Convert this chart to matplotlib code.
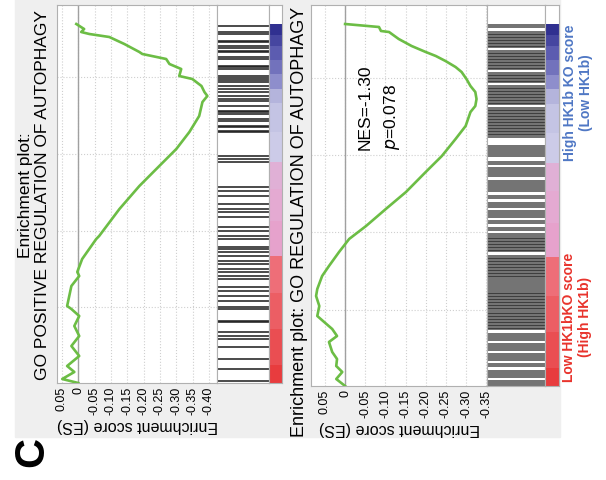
import numpy as np
import matplotlib.pyplot as plt

W, H = 606, 481

# panel 1: GO POSITIVE REGULATION OF AUTOPHAGY
# rank position along the ranked gene list (0 = start of list) and running enrichment score
rank_1 = [0, 4, 11, 17, 27, 37, 47, 57, 67, 74, 77, 97, 107, 111, 124, 144, 147, 174, 197, 217,
          234, 251, 267, 281, 287, 291, 297, 304, 307, 314, 319, 324, 329, 331, 339, 346, 349, 351, 354, 359]
es_1 = [0.0, 0.049, 0.012, 0.034, -0.003, 0.021, -0.003, 0.012, -0.003, 0.021, 0.034, 0.021, -0.003, 0.003,
        -0.012, -0.055, -0.064, -0.126, -0.187, -0.248, -0.300, -0.340, -0.370, -0.380, -0.395, -0.386,
        -0.377, -0.349, -0.309, -0.315, -0.279, -0.269, -0.196, -0.187, -0.141, -0.095, -0.034, -0.009,
        -0.018, 0.006]
hits_1 = [357, 351, 349, 342, 341, 337, 335, 332, 331, 326, 324, 317, 316, 314, 307, 305, 303, 301, 297,
          294, 291, 287, 284, 282, 277, 272, 271, 269, 264, 262, 257, 256, 252, 251, 227, 224, 221, 196,
          192, 187, 179, 174, 171, 166, 156, 152, 147, 144, 136, 134, 131, 127, 122, 119, 114, 111, 107,
          104, 96, 92, 87, 82, 76, 74, 62, 61, 51, 47, 44, 36, 24, 14, 2]
ticks_1 = [0.05, 0, -0.05, -0.10, -0.15, -0.20, -0.25, -0.30, -0.35, -0.40]
tick_labels_1 = ['0.05', '0', '-0.05', '-0.10', '-0.15', '-0.20', '-0.25', '-0.30', '-0.35', '-0.40']

# panel 2: GO REGULATION OF AUTOPHAGY
rank_2 = [0, 7, 14, 20, 27, 34, 44, 50, 57, 64, 70, 80, 90, 97, 110, 120, 134, 147, 160, 177, 194, 214,
          230, 247, 260, 274, 280, 287, 294, 300, 307, 314, 319, 325, 330, 334, 340, 347, 354, 355, 359, 362]
es_2 = [0.0, 0.022, 0.007, 0.022, 0.020, 0.032, 0.040, 0.020, 0.032, 0.052, 0.069, 0.064, 0.072, 0.069,
        0.057, 0.040, 0.015, -0.010, -0.052, -0.101, -0.151, -0.200, -0.240, -0.274, -0.299, -0.311,
        -0.323, -0.326, -0.323, -0.311, -0.301, -0.289, -0.274, -0.249, -0.225, -0.200, -0.165, -0.133,
        -0.109, -0.089, -0.084, 0.0]
hits_2 = [361, 359,
          354, 352.5, 351, 349.5, 348, 346.5, 345, 343.5, 342, 340.5, 339,
          335, 333.5, 332, 330.5, 329, 327.5, 326, 324.5, 323, 321.5, 320, 318.5, 317,
          313, 311.5, 310, 308.5, 307, 305.5, 304,
          300, 298.5, 297, 295.5, 294, 292.5, 291, 289.5, 288, 286.5, 285, 283.5, 282,
          278, 276.5, 275, 273.5, 272, 270.5, 269, 267.5, 266, 264.5, 263, 261.5, 260, 258.5, 257,
          255.5, 254, 252.5, 251, 249.5,
          240, 238, 236, 234, 232, 230,
          224, 222, 218, 216, 214, 212, 210,
          205, 203, 201, 199, 197, 195,
          190, 188,
          183, 181, 179,
          175, 173, 171, 169,
          165, 163,
          158, 156,
          152, 150, 148.5, 147, 145.5, 144, 142.5, 141, 139.5, 138, 136.5, 135,
          130, 128.5, 127, 125.5, 124, 122.5, 121, 119.5, 118, 116.5, 115, 113.5, 112, 110.5,
          109, 107, 105, 103, 101, 99, 97,
          95, 93.5, 92, 90.5, 89, 87.5, 86, 84.5, 83, 81.5, 80, 78.5, 77,
          75, 73.5, 72, 70.5, 69, 67.5, 66, 64.5, 63, 61.5, 60, 58.5, 57,
          52, 50, 48, 46,
          42, 40, 38, 36,
          32, 30, 28, 26,
          22, 20,
          15, 13, 11, 9,
          5, 3, 1]
ticks_2 = [0.05, 0, -0.05, -0.10, -0.15, -0.20, -0.25, -0.30, -0.35]
tick_labels_2 = ['0.05', '0', '-0.05', '-0.10', '-0.15', '-0.20', '-0.25', '-0.30', '-0.35']

# ranked list metric colour bar (fraction of list)
band_edges = [0, 0.05, 0.15, 0.25, 0.355, 0.45, 0.54, 0.615, 0.70, 0.78, 0.82, 0.86, 0.90, 0.94, 0.97, 1.0]
band_colors = ['#e83c3e', '#ea4e52', '#ec5e64', '#ee6e78', '#e6a2cc', '#e4aad2', '#e0b0d6', '#cccbe8',
               '#c4c4e4', '#b4b4dc', '#8e8ecc', '#7272bc', '#5c5cb0', '#4646a0', '#303090']

plt.rcParams['font.family'] = ['Liberation Sans', 'DejaVu Sans']

fig = plt.figure(figsize=(W / 100, H / 100), dpi=100)
fig.patches.append(plt.Rectangle((15 / W, 1 - 438 / H), (560 - 15) / W, 438 / H,
                                 transform=fig.transFigure, color='#efefef', zorder=-1))


def box(x0, y0, x1, y1):
    return fig.add_axes([x0 / W, 1 - y1 / H, (x1 - x0) / W, (y1 - y0) / H])


def ftext(x, y, s, **kw):
    fig.text(x / W, 1 - y / H, s, **kw)


def panel(xs, y_bot, rank, es, hits, ticks, labels, xlim, n, grid_y, hit_lw):
    x0, xh, xc, xe = xs
    top = 6
    ylim = (0, y_bot - top)

    ax = box(x0, top, xh, y_bot)
    ax.plot(es, rank, color='#6cbd45', lw=1.9, zorder=3)
    ax.axvline(0, color='#a0a0a0', lw=1, zorder=2)
    ax.set_xlim(xlim)
    ax.set_ylim(ylim)
    ax.set_xticks(ticks)
    ax.set_xticklabels(labels, rotation=90, fontsize=9)
    ax.set_yticks(grid_y)
    ax.tick_params(axis='y', left=False, labelleft=False)
    ax.tick_params(axis='x', length=0, pad=2)
    ax.grid(True, ls=':', color='#cfcfcf', lw=0.8)
    ax.set_xlabel('Enrichment score (ES)', rotation=180, fontsize=11.5, labelpad=2)
    for s in ax.spines.values():
        s.set_color('#b0b0b0')

    axh = box(xh, top, xc, y_bot)
    axh.hlines(hits, 0, 1, color='#1e1e1e', lw=hit_lw, alpha=0.8)
    axh.set_xlim(0, 1)
    axh.set_ylim(ylim)
    axh.set_xticks([])
    axh.set_yticks([])
    for s in axh.spines.values():
        s.set_color('#b0b0b0')

    axc = box(xc, top, xe, y_bot)
    lo = np.array(band_edges[:-1]) * n
    hi = np.array(band_edges[1:]) * n
    axc.barh(lo, 1, height=hi - lo, left=0, align='edge', color=band_colors)
    axc.set_xlim(0, 1)
    axc.set_ylim(ylim)
    axc.set_xticks([])
    axc.set_yticks([])
    for s in axc.spines.values():
        s.set_color('#b0b0b0')


panel((57, 217, 269, 282), 384, rank_1, es_1, hits_1, ticks_1, tick_labels_1,
      (0.065, -0.4245), 359, [76, 152, 229, 306], 1.4)
panel((311, 487, 545, 559), 387, rank_2, es_2, hits_2, ticks_2, tick_labels_2,
      (0.0846, -0.352), 362, [76, 154, 231, 308], 1.1)

ftext(34, 195, 'Enrichment plot:\nGO POSITIVE REGULATION OF AUTOPHAGY', rotation=90,
      ha='center', va='center', multialignment='center', fontsize=12.5, linespacing=1.2)
ftext(299, 222, 'Enrichment plot: GO REGULATION OF AUTOPHAGY', rotation=90,
      ha='center', va='center', fontsize=13)

ftext(365, 150, 'NES=-1.30', rotation=90, rotation_mode='anchor', ha='left', va='center', fontsize=12.5)
ftext(392, 150, r'$p$=0.078', rotation=90, rotation_mode='anchor', ha='left', va='center', fontsize=12.5)

ftext(578, 93, 'High HK1b KO score\n(Low HK1b)', rotation=90, ha='center', va='center',
      multialignment='center', fontsize=10, fontweight='bold', color='#4f77c4', linespacing=1.15)
ftext(577, 317, 'Low HK1bKO score\n(High HK1b)', rotation=90, ha='center', va='center',
      multialignment='center', fontsize=10, fontweight='bold', color='#e8332c', linespacing=1.15)

ftext(32, 452, 'C', rotation=90, ha='center', va='center', fontsize=30, fontweight='bold')

fig.savefig('out.png', dpi=100)
